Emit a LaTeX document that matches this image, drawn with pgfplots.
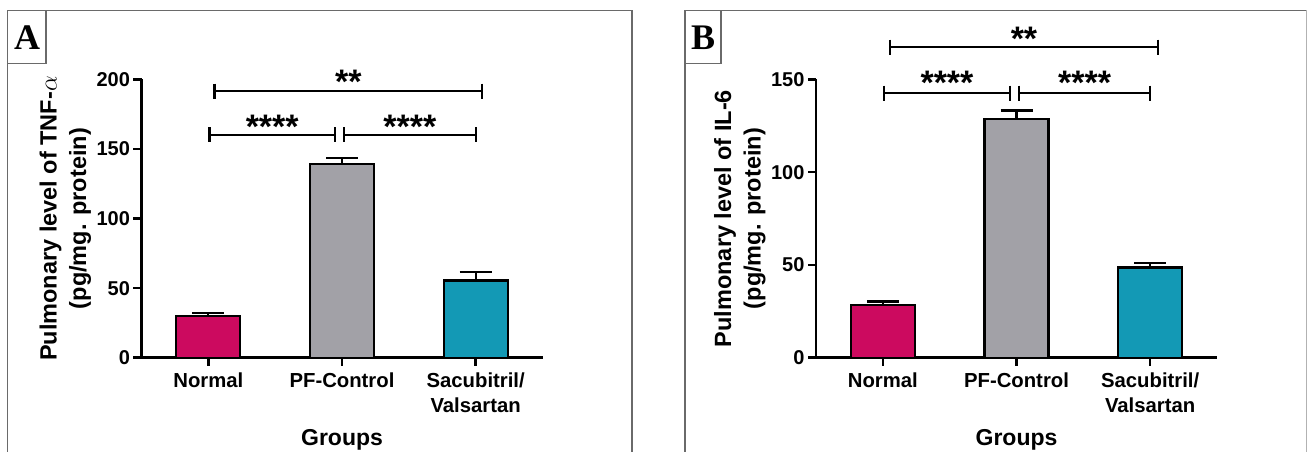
\documentclass[border=0pt]{standalone}
\usepackage{fontspec}
\setmainfont{Liberation Sans}
\newfontfamily\serifb{Liberation Serif}
\usepackage{pgfplots}
\pgfplotsset{compat=1.18}
\definecolor{cmag}{HTML}{CC0A5F}
\definecolor{cgray}{HTML}{A2A1A7}
\definecolor{cteal}{HTML}{1399B5}
\definecolor{cframe}{HTML}{6A6A6A}
\pgfplotsset{
 panel/.style={
  scale only axis, width=401pt, height=278.2pt,
  anchor=south west,
  xmin=-0.5, xmax=2.5, ymin=0,
  axis x line*=bottom, axis y line*=left,
  axis line style={line width=2.5pt, -, black},
  tick align=outside, major tick length=8pt,
  tick style={line width=2.5pt, black},
  xtick={0,1,2},
  xticklabels={Normal, PF-Control, {Sacubitril/\\Valsartan}},
  xticklabel style={align=center, font=\fontsize{20.3}{25}\selectfont\bfseries, yshift=-4pt},
  yticklabel style={font=\fontsize{20}{24}\selectfont\bfseries},
  /pgf/number format/assume math mode=true,
  clip=false,
  ybar, bar width=64pt, bar shift=0pt,
  xlabel={Groups},
  xlabel style={font=\fontsize{23}{28}\selectfont\bfseries, at={(axis description cs:0.5,-0.295)}, anchor=center},
  ylabel style={font=\fontsize{23.5}{29.5}\selectfont\bfseries, align=center, at={(axis description cs:-0.19,0.5)}, anchor=center},
 },
 barst/.style={fill=#1, draw=black, line width=2.2pt,
  error bars/.cd, y dir=plus, y explicit,
  error bar style={line width=2.2pt, black},
  error mark options={line width=2.2pt, mark size=16pt, black, rotate=90}},
}
\newcommand{\brk}[3]{\draw[line width=2.2pt, black] (axis cs:#1,#3) ++(0pt,7.5pt) -- ++(0pt,-15pt) ++(0pt,7.5pt) -- (axis cs:#2,#3) ++(0pt,7.5pt) -- ++(0pt,-15pt);}
\newcommand{\stars}[3]{\node[anchor=base, inner sep=0pt, font=\fontsize{34}{34}\selectfont\bfseries] at ([yshift=-19.5pt]axis cs:#1,#2) {#3};}
\begin{document}
\begin{tikzpicture}[x=1pt,y=1pt]
\useasboundingbox (0,0) rectangle (1307,452);
% frames
\draw[line width=1.5pt, cframe] (7.5,-2) -- (7.5,441.5) -- (632,441.5) -- (632,-2);
\draw[line width=1.2pt, cframe] (7.5,388.7) rectangle (46,441.5);
\node[font=\fontsize{36}{36}\selectfont\serifb\bfseries] at (27,414) {A};
\draw[line width=1.5pt, cframe] (685,-2) -- (685,441.5) -- (1309,441.5);
\draw[line width=1pt, black!30] (1306.5,-2) -- (1306.5,441.5);
\draw[line width=1.2pt, cframe] (685,388.7) rectangle (721,441.5);
\node[font=\fontsize{36}{36}\selectfont\serifb\bfseries] at (703,414) {B};

\begin{axis}[panel, at={(141.5pt,94.3pt)}, ymax=200, ytick={0,50,100,150,200},
  ylabel={Pulmonary level of TNF-$\alpha$\\(pg/mg. protein)}]
\addplot[barst=cmag] coordinates {(0,30) +- (0,1.9)};
\addplot[barst=cgray] coordinates {(1,139.5) +- (0,3.8)};
\addplot[barst=cteal] coordinates {(2,55.5) +- (0,6.1)};
\brk{0.046}{2.05}{191.7}
\brk{0.008}{0.947}{160.1}
\brk{1.016}{2.0}{160.1}
\stars{1.048}{204}{**}
\stars{0.478}{171.4}{****}
\stars{1.508}{171.4}{****}
\end{axis}

\begin{axis}[panel, at={(816pt,94.3pt)}, ymax=150, ytick={0,50,100,150},
  ylabel={Pulmonary level of IL-6\\(pg/mg. protein)}]
\addplot[barst=cmag] coordinates {(0,28.6) +- (0,1.7)};
\addplot[barst=cgray] coordinates {(1,128.7) +- (0,4.6)};
\addplot[barst=cteal] coordinates {(2,48.6) +- (0,2.4)};
\brk{0.055}{2.057}{167.4}
\brk{0.01}{0.95}{142.6}
\brk{1.02}{2.0}{142.6}
\stars{1.056}{176.3}{**}
\stars{0.48}{152.4}{****}
\stars{1.51}{152.4}{****}
\end{axis}
\end{tikzpicture}
\end{document}
